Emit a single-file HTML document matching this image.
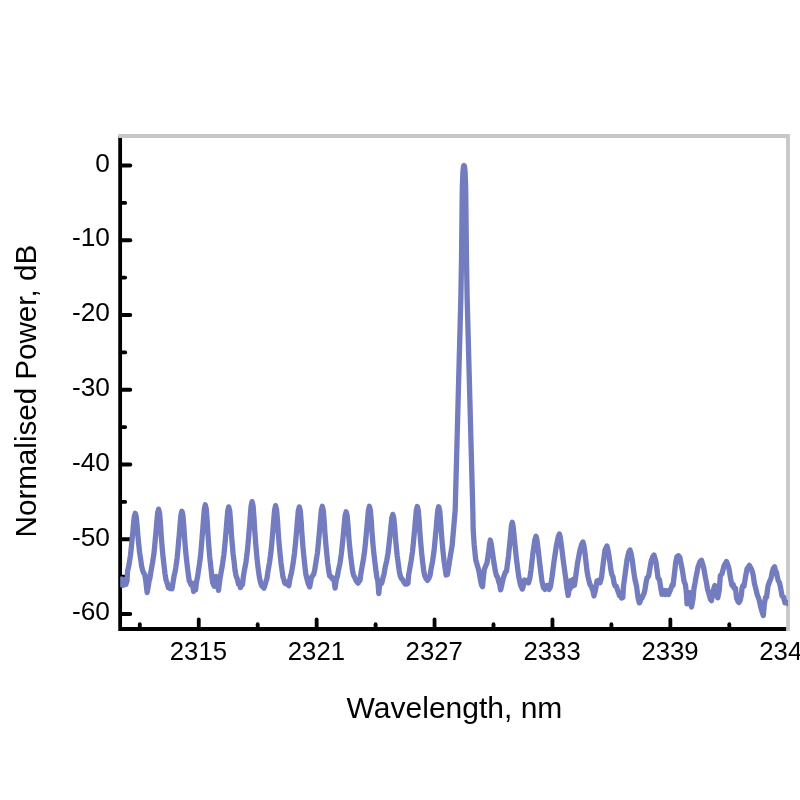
<!DOCTYPE html>
<html><head><meta charset="utf-8"><title>Spectrum</title>
<style>html,body{margin:0;padding:0;background:#fff;overflow:hidden;}svg{display:block;}</style></head>
<body>
<svg width="800" height="800" viewBox="0 0 800 800">
<rect width="800" height="800" fill="#fff"/>
<g stroke="#000" stroke-width="3.8" fill="none" stroke-linecap="round">
<path d="M120.15,136.0 V629.0 H788.0" stroke-linecap="butt" stroke-linejoin="miter"/>
<path d="M120.65,165.50 H130.3"/>
<path d="M120.65,240.25 H130.3"/>
<path d="M120.65,315.00 H130.3"/>
<path d="M120.65,389.75 H130.3"/>
<path d="M120.65,464.50 H130.3"/>
<path d="M120.65,539.25 H130.3"/>
<path d="M120.65,614.00 H130.3"/>
<path d="M120.65,202.88 H125.2"/>
<path d="M120.65,277.62 H125.2"/>
<path d="M120.65,352.38 H125.2"/>
<path d="M120.65,427.12 H125.2"/>
<path d="M120.65,501.88 H125.2"/>
<path d="M120.65,576.62 H125.2"/>
<path d="M198.75,629.0 V619.4"/>
<path d="M316.65,629.0 V619.4"/>
<path d="M434.55,629.0 V619.4"/>
<path d="M552.45,629.0 V619.4"/>
<path d="M670.35,629.0 V619.4"/>
<path d="M139.80,629.0 V624.2"/>
<path d="M257.70,629.0 V624.2"/>
<path d="M375.60,629.0 V624.2"/>
<path d="M493.50,629.0 V624.2"/>
<path d="M611.40,629.0 V624.2"/>
<path d="M729.30,629.0 V624.2"/>
</g>
<path d="M118.25,136.0 H788.0 V630.9" fill="none" stroke="#c8c8c8" stroke-width="3.8" stroke-linejoin="miter"/>
<clipPath id="c"><rect x="120.15" y="136.0" width="667.85" height="493.0"/></clipPath>
<path clip-path="url(#c)" d="M119.5,581.0 L120.8,584.5 L122.0,579.0 L123.2,585.4 L124.5,580.0 L125.8,584.5 L127.0,581.2 L127.5,571.7 L129.1,564.1 L130.4,555.9 L131.3,547.6 L132.1,539.2 L132.6,534.5 L133.2,527.4 L134.2,517.1 L135.2,513.3 L136.2,516.6 L137.2,526.5 L137.8,534.6 L138.8,545.0 L139.6,552.4 L140.6,558.9 L141.6,566.2 L142.6,570.2 L143.7,573.1 L144.8,574.4 L145.9,581.8 L147.1,592.5 L148.2,586.8 L149.4,579.4 L149.9,578.3 L150.9,571.7 L152.5,562.9 L153.8,554.7 L154.7,545.9 L155.5,536.9 L156.0,531.8 L156.6,524.3 L157.6,513.2 L158.6,509.1 L159.6,513.1 L160.6,525.3 L161.2,535.3 L162.2,547.8 L163.0,556.5 L164.0,565.3 L165.0,573.6 L166.0,579.9 L167.2,583.1 L168.3,587.5 L169.2,587.6 L170.0,588.6 L171.0,588.3 L172.0,588.7 L173.2,581.4 L174.2,575.3 L175.0,572.3 L175.8,567.6 L177.1,558.1 L178.0,548.9 L178.8,539.6 L179.3,534.4 L179.9,526.7 L180.9,515.3 L181.9,511.2 L182.9,515.2 L183.9,527.1 L184.5,536.8 L185.5,549.1 L186.3,557.5 L187.3,566.2 L188.3,574.2 L189.3,581.2 L190.2,582.2 L191.0,584.8 L192.5,583.4 L193.6,591.5 L194.6,584.3 L195.6,590.0 L196.6,581.3 L197.6,576.6 L199.2,565.8 L200.5,556.4 L201.4,546.0 L202.2,536.0 L202.7,530.3 L203.3,521.8 L204.3,509.4 L205.3,504.8 L206.3,509.2 L207.3,522.5 L207.9,533.4 L208.9,547.2 L209.7,556.7 L210.7,565.8 L211.8,576.3 L212.7,582.7 L214.2,586.3 L215.1,580.5 L216.0,576.4 L217.3,584.2 L218.5,590.3 L220.0,578.6 L221.0,573.1 L222.6,563.7 L223.9,554.6 L224.8,545.7 L225.6,536.2 L226.1,530.9 L226.7,522.9 L227.7,511.2 L228.7,506.9 L229.7,510.8 L230.7,522.7 L231.3,532.5 L232.3,544.8 L233.1,553.6 L234.1,561.7 L235.1,570.8 L236.1,575.9 L237.3,579.0 L238.5,584.1 L239.5,584.5 L240.5,587.6 L241.5,585.2 L242.5,584.8 L243.4,576.4 L244.4,570.5 L246.0,561.9 L247.3,551.7 L248.2,541.9 L249.0,532.1 L249.5,526.5 L250.1,518.2 L251.1,506.0 L252.1,501.6 L253.1,506.0 L254.1,519.1 L254.7,529.9 L255.7,543.5 L256.5,552.9 L257.5,563.2 L258.6,571.6 L259.5,577.8 L260.5,582.4 L261.5,585.4 L263.0,587.1 L264.0,588.1 L265.0,585.2 L266.0,581.4 L266.9,578.6 L267.9,571.8 L269.5,562.6 L270.8,553.2 L271.7,544.3 L272.5,534.9 L273.0,529.6 L273.6,521.6 L274.6,510.0 L275.6,505.7 L276.6,509.8 L277.6,522.0 L278.2,532.1 L279.2,544.8 L280.0,553.3 L281.0,562.8 L282.1,571.0 L283.0,577.2 L283.9,579.7 L284.8,583.0 L285.6,583.7 L286.5,582.0 L287.6,583.8 L288.8,585.7 L289.7,580.4 L290.6,576.2 L291.6,572.1 L293.2,562.8 L294.5,553.1 L295.4,544.3 L296.2,535.2 L296.7,530.0 L297.3,522.3 L298.3,511.0 L299.3,506.9 L300.3,511.0 L301.3,523.3 L301.9,533.4 L302.9,546.2 L303.7,554.8 L304.7,564.5 L305.8,573.9 L306.7,577.8 L308.2,583.7 L309.7,586.9 L310.6,582.3 L311.5,577.3 L312.6,575.6 L313.6,574.5 L314.6,570.7 L316.2,560.7 L317.5,552.3 L318.4,543.3 L319.2,534.3 L319.7,529.1 L320.3,521.5 L321.3,510.4 L322.3,506.3 L323.3,510.3 L324.3,522.4 L324.9,532.3 L325.9,544.8 L326.7,553.3 L327.7,562.8 L328.8,571.3 L329.7,576.0 L330.9,576.5 L332.0,578.5 L332.9,577.7 L333.8,578.9 L335.1,588.1 L336.3,579.8 L337.4,576.2 L338.4,570.4 L340.0,563.2 L341.3,554.0 L342.2,546.1 L343.0,537.7 L343.5,533.0 L344.1,525.9 L345.1,515.6 L346.1,511.8 L347.1,515.5 L348.1,526.5 L348.7,535.6 L349.7,547.0 L350.5,554.6 L351.5,562.8 L352.6,571.0 L353.5,575.0 L354.5,577.0 L355.5,579.2 L356.8,581.7 L358.0,583.2 L359.0,581.2 L360.0,580.4 L360.7,575.0 L361.7,568.8 L363.3,560.1 L364.6,551.2 L365.5,542.5 L366.3,533.7 L366.8,528.6 L367.4,521.2 L368.4,510.3 L369.4,506.3 L370.4,510.3 L371.4,522.3 L372.0,532.1 L373.0,544.6 L373.8,552.9 L374.8,561.4 L375.8,569.7 L376.8,576.9 L377.9,581.5 L378.8,593.5 L379.8,582.7 L380.6,584.1 L381.5,583.5 L382.4,580.8 L383.3,576.6 L384.1,574.0 L385.1,567.5 L386.7,560.8 L388.0,553.4 L388.9,545.7 L389.7,538.1 L390.2,533.7 L390.8,527.3 L391.8,517.9 L392.8,514.4 L393.8,517.9 L394.8,528.3 L395.4,536.8 L396.4,547.7 L397.2,555.6 L398.2,563.1 L399.2,570.7 L400.2,575.6 L401.4,578.4 L402.5,579.6 L403.8,582.0 L405.0,584.0 L406.5,584.2 L408.0,583.4 L408.6,575.1 L409.6,569.6 L411.2,560.4 L412.5,551.6 L413.4,542.8 L414.2,534.0 L414.7,528.9 L415.3,521.5 L416.3,510.5 L417.3,506.5 L418.3,510.5 L419.3,522.5 L419.9,532.4 L420.9,544.9 L421.7,553.5 L422.7,562.5 L423.8,571.3 L424.7,575.6 L426.1,578.6 L427.5,580.4 L428.8,578.4 L430.0,575.5 L431.0,569.3 L432.6,561.0 L433.9,552.0 L434.8,543.2 L435.6,534.3 L436.1,529.2 L436.7,521.7 L437.7,510.7 L438.7,506.7 L439.7,510.6 L440.7,522.2 L441.3,531.8 L442.3,543.9 L443.1,552.3 L444.1,561.3 L445.1,568.5 L446.1,575.0 L447.3,574.7 L448.3,569.2 L449.7,560.0 L452.2,545.0 L453.5,530.0 L455.2,510.0 L456.8,450.0 L460.8,300.0 L461.5,260.0 L462.3,188.0 L462.9,172.0 L463.5,166.3 L464.0,165.6 L464.5,166.3 L465.1,172.0 L465.7,188.0 L466.5,260.0 L467.2,300.0 L471.2,450.0 L472.8,510.0 L473.2,530.0 L474.2,545.0 L475.7,559.7 L478.8,570.4 L479.6,575.0 L480.5,580.3 L481.5,584.9 L482.5,586.7 L483.5,576.6 L484.3,569.5 L485.5,566.4 L487.0,563.0 L488.5,552.7 L489.5,544.0 L490.3,540.0 L491.2,544.0 L492.3,551.3 L494.0,563.3 L495.5,571.9 L496.5,575.8 L497.5,577.0 L499.0,582.5 L499.8,585.0 L500.6,589.9 L501.8,585.0 L503.0,579.2 L504.5,574.5 L505.5,572.0 L506.5,571.2 L508.5,555.8 L510.3,538.0 L511.4,526.0 L512.3,522.3 L513.2,527.0 L514.5,540.0 L516.5,559.4 L518.5,575.0 L519.5,580.5 L520.5,585.2 L521.4,587.0 L522.3,589.1 L523.5,585.2 L524.5,580.0 L525.5,580.6 L526.5,580.3 L527.5,580.8 L528.5,582.9 L529.8,578.4 L531.0,570.0 L533.0,552.8 L534.8,540.0 L536.0,536.2 L537.0,540.0 L538.0,548.0 L540.0,565.6 L542.0,581.5 L543.5,587.8 L545.0,589.4 L546.2,585.8 L547.5,585.4 L549.0,589.4 L550.5,586.7 L552.0,577.2 L554.0,561.7 L556.5,545.0 L558.3,536.5 L559.4,534.0 L560.4,538.0 L561.5,546.0 L563.5,562.5 L565.5,576.6 L567.0,588.6 L568.2,595.5 L569.0,589.9 L569.8,589.2 L570.8,580.7 L572.0,586.6 L573.2,579.5 L574.5,585.2 L575.8,575.9 L577.5,563.2 L580.0,550.1 L581.8,544.0 L582.9,541.9 L584.0,546.0 L585.0,553.3 L587.0,571.0 L588.0,576.5 L589.0,581.0 L590.2,584.9 L591.5,586.8 L593.0,591.0 L594.0,596.0 L595.5,589.8 L597.0,581.0 L598.5,580.3 L600.0,582.8 L601.5,577.6 L603.0,565.0 L605.0,550.1 L606.9,546.0 L608.0,550.2 L609.0,555.9 L611.0,570.7 L612.0,575.0 L613.0,576.8 L614.0,582.9 L615.0,585.8 L616.2,586.2 L617.5,589.8 L618.5,592.5 L619.5,595.6 L620.5,595.5 L621.5,598.1 L622.8,597.5 L623.5,586.0 L625.0,575.1 L627.0,559.9 L628.8,552.1 L630.0,549.9 L631.0,553.2 L632.0,558.4 L634.0,573.4 L635.2,580.7 L636.5,586.0 L638.0,597.6 L639.3,602.9 L640.1,602.0 L641.0,598.1 L642.0,598.2 L643.0,595.3 L644.0,593.6 L645.0,589.3 L646.0,583.0 L647.0,577.8 L647.8,577.3 L648.6,576.1 L651.1,561.4 L652.8,556.5 L654.0,555.1 L655.0,558.4 L656.0,562.2 L658.0,577.8 L659.5,580.0 L661.0,589.4 L662.0,594.4 L663.0,591.1 L664.0,590.5 L665.5,594.5 L667.0,590.8 L668.5,594.5 L670.0,590.7 L671.3,587.5 L672.1,585.0 L673.0,585.5 L674.3,574.9 L675.7,562.5 L677.0,556.5 L678.5,555.7 L679.8,557.3 L682.0,568.3 L683.0,574.1 L684.0,581.0 L685.5,585.2 L686.5,594.2 L687.0,603.8 L688.5,597.4 L689.8,592.6 L690.6,598.1 L691.5,607.0 L693.0,598.9 L694.0,588.1 L695.0,583.2 L696.0,577.1 L697.0,572.6 L698.0,567.0 L700.0,561.7 L701.5,560.3 L703.5,566.9 L705.5,578.0 L706.5,582.7 L707.5,589.1 L708.5,592.2 L709.5,596.0 L710.5,599.4 L711.5,600.6 L713.0,592.2 L713.9,588.2 L714.8,585.5 L716.3,593.7 L717.8,597.7 L719.3,589.9 L720.3,576.0 L721.1,574.8 L722.0,573.8 L724.0,565.8 L726.5,561.5 L728.5,566.6 L729.5,571.7 L730.5,578.3 L732.0,585.4 L733.0,584.2 L734.0,588.0 L735.5,588.2 L736.5,597.8 L738.0,601.6 L739.0,602.5 L740.0,600.8 L741.3,595.4 L742.0,588.4 L743.0,585.4 L744.0,586.3 L745.5,576.9 L747.0,569.0 L749.4,565.4 L751.5,569.3 L753.0,574.1 L754.5,583.8 L755.5,587.5 L756.5,591.7 L757.5,595.6 L758.5,597.6 L759.5,601.3 L760.5,606.5 L762.0,611.6 L763.3,615.5 L764.3,604.4 L765.5,597.4 L766.5,597.4 L768.0,586.1 L769.5,581.7 L771.0,578.4 L772.5,570.9 L773.5,568.1 L774.6,566.8 L775.5,570.9 L776.5,572.3 L777.5,577.9 L778.5,581.2 L779.5,582.8 L780.5,587.1 L782.0,595.9 L783.5,597.0 L785.0,602.9 L786.5,602.5 L787.5,602.7 L788.5,604.0" fill="none" stroke="#727cbe" stroke-width="5.3" stroke-linejoin="round" stroke-linecap="round"/>
<g font-family="'Liberation Sans', sans-serif" fill="#000">
<text x="95.3" y="171.7" font-size="26.2" textLength="14.6" lengthAdjust="spacingAndGlyphs">0</text>
<text x="71.9" y="246.4" font-size="26.2" textLength="38.0" lengthAdjust="spacingAndGlyphs">-10</text>
<text x="71.9" y="321.2" font-size="26.2" textLength="38.0" lengthAdjust="spacingAndGlyphs">-20</text>
<text x="71.9" y="395.9" font-size="26.2" textLength="38.0" lengthAdjust="spacingAndGlyphs">-30</text>
<text x="71.9" y="470.7" font-size="26.2" textLength="38.0" lengthAdjust="spacingAndGlyphs">-40</text>
<text x="71.9" y="545.5" font-size="26.2" textLength="38.0" lengthAdjust="spacingAndGlyphs">-50</text>
<text x="71.9" y="620.2" font-size="26.2" textLength="38.0" lengthAdjust="spacingAndGlyphs">-60</text>
<text x="169.8" y="660.3" font-size="26.2" textLength="57.2" lengthAdjust="spacingAndGlyphs">2315</text>
<text x="287.8" y="660.3" font-size="26.2" textLength="57.2" lengthAdjust="spacingAndGlyphs">2321</text>
<text x="405.6" y="660.3" font-size="26.2" textLength="57.2" lengthAdjust="spacingAndGlyphs">2327</text>
<text x="523.5" y="660.3" font-size="26.2" textLength="57.2" lengthAdjust="spacingAndGlyphs">2333</text>
<text x="641.4" y="660.3" font-size="26.2" textLength="57.2" lengthAdjust="spacingAndGlyphs">2339</text>
<text x="759.3" y="660.3" font-size="26.2" textLength="57.2" lengthAdjust="spacingAndGlyphs">2345</text>
<text x="346.6" y="718.0" font-size="29.2" textLength="215.8" lengthAdjust="spacingAndGlyphs">Wavelength, nm</text>
<text transform="translate(35.9,537.4) rotate(-90)" font-size="29.4" textLength="292.5" lengthAdjust="spacingAndGlyphs">Normalised Power, dB</text>
</g></svg>
</body></html>
